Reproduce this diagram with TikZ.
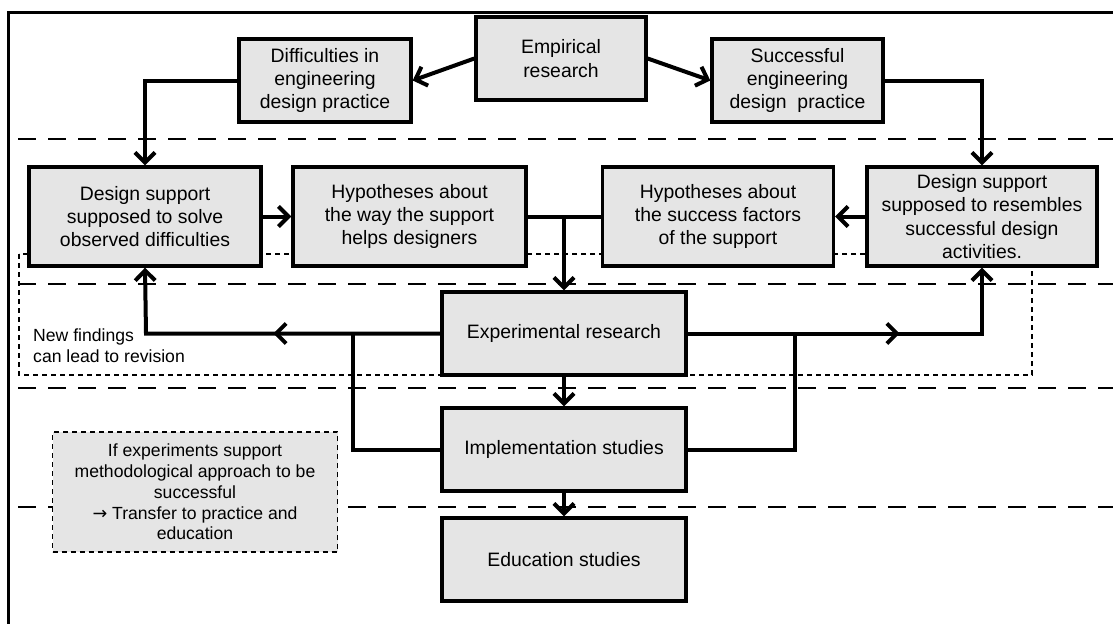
\documentclass[tikz,border=0pt]{standalone}
\usepackage{fontspec}
\setmainfont{Liberation Sans}
\newfontfamily\symfont{DejaVu Sans}
\usetikzlibrary{arrows.meta,decorations.markings}
\definecolor{boxgray}{RGB}{229,229,229}
\tikzset{
  box/.style={draw=black, fill=boxgray, line width=3.4pt, align=center, inner sep=0pt,
    font=\fontsize{19.4}{23.3}\selectfont},
  notebox/.style={draw=black, fill=boxgray, line width=1.1pt, dash pattern=on 5pt off 4pt,
    align=center, inner sep=0pt, font=\fontsize{17.6}{20.8}\selectfont},
  conn/.style={line width=4pt, draw=black},
  >={Straight Barb[length=10pt,width=20pt]},
  band/.style={line width=2.3pt, dash pattern=on 18pt off 12pt},
  thindash/.style={line width=1.1pt, dash pattern=on 5pt off 4pt},
  midarrow/.style={postaction={decorate,decoration={markings,
    mark=at position #1 with {\arrow{>}}}}},
}
\begin{document}
\begin{tikzpicture}[x=1pt,y=-1pt]
\useasboundingbox (0,0) rectangle (1113,624);

% outer frame
\draw[line width=3pt] (1113,12) -- (8,12) -- (8,624);

% dashed bands separating the stages
\draw[band] (18,139) -- (1113,139);
\draw[band] (18,284) -- (1113,284);
\draw[band] (18,388) -- (1113,388);
\draw[band] (18,507) -- (1113,507);

% revision loop frame
\draw[thindash] (19,254) rectangle (1032,375);
\node[anchor=west, align=left, inner sep=0pt, font=\fontsize{17.6}{20.8}\selectfont]
  (revlabel) at (33,345.5) {New findings\\can lead to revision};

% boxes
\node[box, minimum width=170pt, minimum height=83pt] (emp) at (561,58.5) {Empirical\\research};
\node[box, minimum width=172pt, minimum height=83pt] (diff) at (325,80.5) {Difficulties in\\engineering\\design practice};
\node[box, minimum width=171pt, minimum height=83pt] (succ) at (797.5,80.5) {Successful\\engineering\\design\ \ practice};
\node[box, minimum width=232pt, minimum height=99pt] (dsl) at (145,216.5) {Design support\\supposed to solve\\observed difficulties};
\node[box, minimum width=233pt, minimum height=99pt] (hypa) at (409.5,216.5) {Hypotheses about\\the way the support\\helps designers};
\node[box, minimum width=231pt, minimum height=99pt] (hypb) at (718,216.5) {Hypotheses about\\the success factors\\of the support};
\node[box, minimum width=230pt, minimum height=99pt] (dsr) at (982,216.5) {Design support\\supposed to resembles\\successful design\\activities.};
\node[box, minimum width=244pt, minimum height=83pt] (exp) at (564,333.5) {Experimental research};
\node[box, minimum width=244pt, minimum height=83pt] (imp) at (564,449.5) {Implementation studies};
\node[box, minimum width=244pt, minimum height=83pt] (edu) at (564,559.5) {Education studies};
\node[notebox, minimum width=285pt, minimum height=120pt] (note) at (195,492)
  {If experiments support\\methodological approach to be\\successful\\{\symfont →} Transfer to practice and\\education};

% connectors
\coordinate (turnl) at (146,333.5);
\coordinate (turnr) at (982,333.5);
\coordinate (joinl) at (353,333.5);
\coordinate (joinr) at (795,333.5);

\draw[conn,->] (emp.west) -- (diff.east);
\draw[conn,->] (emp.east) -- (succ.west);
\draw[conn,->] (diff.west) -| (dsl.north);
\draw[conn,->] (succ.east) -| (dsr.north);
\draw[conn,->] (dsl.east) -- (hypa.west);
\draw[conn,->] (dsr.west) -- (hypb.east);
\draw[conn] (hypa.east) -- (hypb.west);
\draw[conn,->] (hypa.east -| exp.north) -- (exp.north);
\draw[conn,->,midarrow=167pt] (exp.west) -- (turnl) -- (dsl.south);
\draw[conn,->,midarrow=212pt] (exp.east) -- (turnr) -- (dsr.south);
\draw[conn] (joinl) |- (imp.west);
\draw[conn] (joinr) |- (imp.east);
\draw[conn,->] (exp.south) -- (imp.north);
\draw[conn,->] (imp.south) -- (edu.north);
\end{tikzpicture}
\end{document}
